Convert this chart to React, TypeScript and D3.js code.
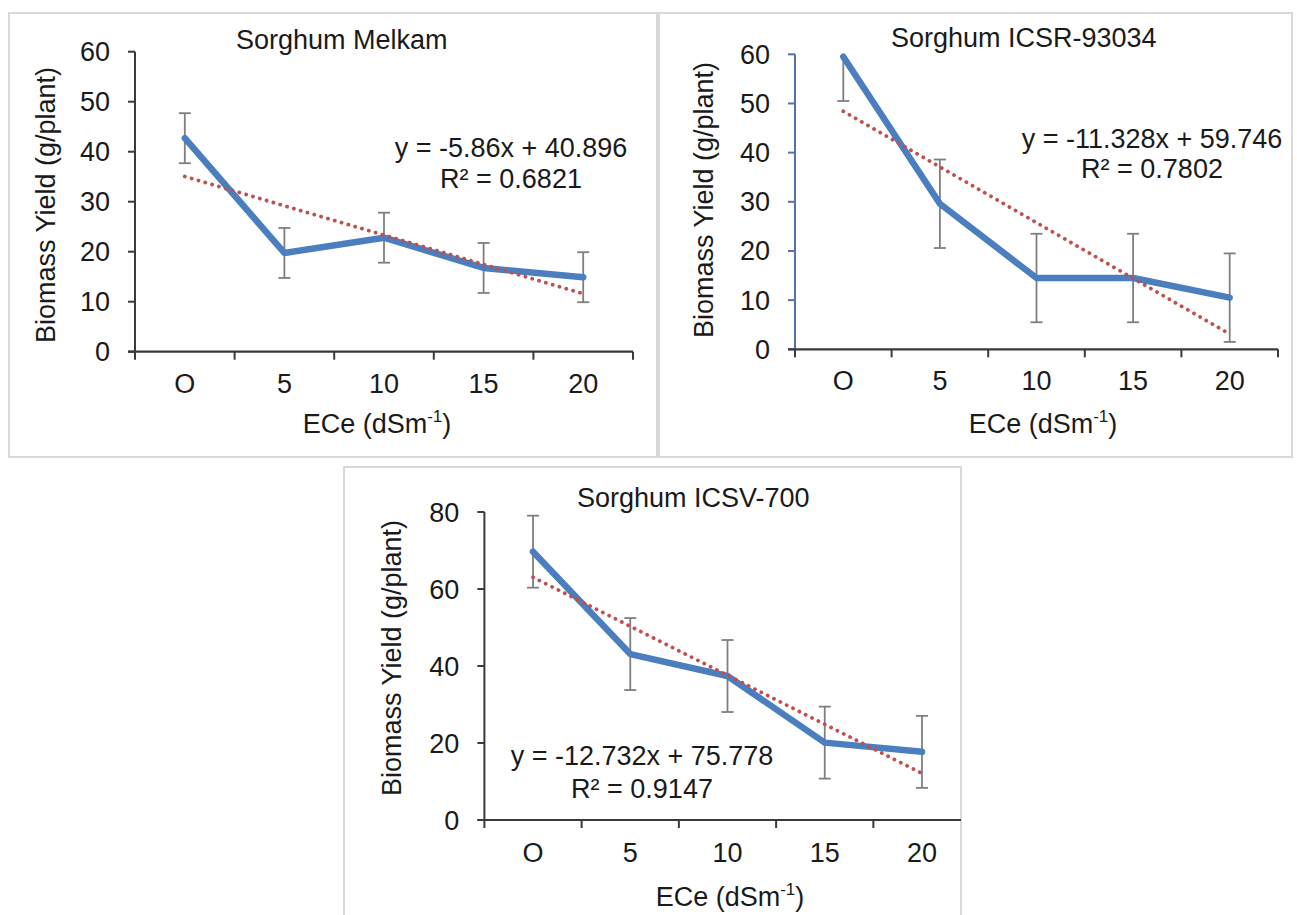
import React from "react";
import * as d3 from "d3";

// ---------- data ----------
const categories = ["O", "5", "10", "15", "20"];
const melkamYield = [42.7, 19.75, 22.8, 16.75, 14.9];
const melkamError = [5, 5, 5, 5, 5];
const icsrYield = [59.5, 29.6, 14.5, 14.5, 10.5];
const icsrError = [9, 9, 9, 9, 9];
const icsvYield = [69.7, 43.1, 37.4, 20.1, 17.7];
const icsvError = [9.35, 9.35, 9.35, 9.35, 9.35];
const panelTitles = ["Sorghum Melkam", "Sorghum ICSR-93034", "Sorghum ICSV-700"];
const trendSlopes = [-5.86, -11.328, -12.732];
const trendIntercepts = [40.896, 59.746, 75.778];
const rSquaredLabels = ["0.6821", "0.7802", "0.9147"];
const yTicksSixty = [0, 10, 20, 30, 40, 50, 60];
const yTicksEighty = [0, 20, 40, 60, 80];
const yAxisTitle = "Biomass Yield (g/plant)";
const xAxisTitle = "ECe (dSm";
const xAxisSup = "-1";

const seriesValues = [melkamYield, icsrYield, icsvYield];
const seriesErrors = [melkamError, icsrError, icsvError];
const seriesTicks = [yTicksSixty, yTicksSixty, yTicksEighty];

// ---------- layout ----------
const layouts = [
  {
    border: [9, 13, 648, 444], x0: 135, x1: 633, yTop: 51.7, yBottom: 351.7,
    yAxisColor: "#3a3a3a", titleX: 236, titleY: 49, eqX: 511, eqY1: 157, eqY2: 188,
    yLabX: 46, yLabY: 205, xLabX: 377, xLabY: 433, tickLabY: 393,
  },
  {
    border: [659, 13, 633, 444], x0: 795, x1: 1278, yTop: 54.3, yBottom: 349.3,
    yAxisColor: "#5671a6", titleX: 891, titleY: 47, eqX: 1152, eqY1: 148, eqY2: 178,
    yLabX: 704, yLabY: 200, xLabX: 1043, xLabY: 433, tickLabY: 390,
  },
  {
    border: [344, 467, 617, 470], x0: 484.4, x1: 970.6, yTop: 512, yBottom: 820,
    yAxisColor: "#3a3a3a", titleX: 577, titleY: 507, eqX: 642, eqY1: 765, eqY2: 798,
    yLabX: 392, yLabY: 658, xLabX: 730, xLabY: 906, tickLabY: 862,
  },
];

const FONT = "'Liberation Sans', Arial, Helvetica, sans-serif";
const FS = 27;
const TEXT = "#1a1a1a";
const AXIS = "#3a3a3a";

function Panel({ idx }: { idx: number }) {
  const L = layouts[idx];
  const values = seriesValues[idx];
  const errors = seriesErrors[idx];
  const ticks = seriesTicks[idx];
  const yMax = d3.max(ticks) as number;

  const x = d3.scaleBand<string>().domain(categories).range([L.x0, L.x1]).padding(0);
  const y = d3.scaleLinear().domain([0, yMax]).range([L.yBottom, L.yTop]);
  const cx = (i: number) => (x(categories[i]) as number) + x.bandwidth() / 2;

  const line = d3
    .line<number>()
    .x((_, i) => cx(i))
    .y((d) => y(d));

  const trendVals = categories.map((_, i) => trendSlopes[idx] * (i + 1) + trendIntercepts[idx]);

  const [bx, by, bw, bh] = L.border;
  const clipId = `clip-panel-${idx}`;
  const boundaries = d3.range(categories.length + 1).map((i) => L.x0 + i * x.bandwidth());

  return (
    <g>
      <defs>
        <clipPath id={clipId}>
          <rect x={bx} y={by} width={bw} height={bh} />
        </clipPath>
      </defs>
      <rect x={bx} y={by} width={bw} height={bh} fill="#ffffff" stroke="#d9d9d9" strokeWidth={2} />
      <g clipPath={`url(#${clipId})`}>
        <text x={L.titleX} y={L.titleY} fontFamily={FONT} fontSize={FS} fill={TEXT}>
          {panelTitles[idx]}
        </text>
        {ticks.map((t) => (
          <text
            key={`yl${t}`}
            x={L.x0 - 25}
            y={y(t) + 9.5}
            textAnchor="end"
            fontFamily={FONT}
            fontSize={FS}
            fill={TEXT}
          >
            {t}
          </text>
        ))}
        {ticks.map((t) => (
          <line key={`yt${t}`} x1={L.x0 - 7} x2={L.x0} y1={y(t)} y2={y(t)} stroke={L.yAxisColor} strokeWidth={2} />
        ))}
        {boundaries.map((b, i) => (
          <line key={`xt${i}`} x1={b} x2={b} y1={L.yBottom} y2={L.yBottom + 8} stroke={AXIS} strokeWidth={2} />
        ))}
        <line x1={L.x0} x2={L.x0} y1={y(yMax)} y2={L.yBottom} stroke={L.yAxisColor} strokeWidth={2} />
        <line x1={L.x0 - 7} x2={L.x1} y1={L.yBottom} y2={L.yBottom} stroke={AXIS} strokeWidth={2.2} />
        {categories.map((c, i) => (
          <text key={`xl${c}`} x={cx(i)} y={L.tickLabY} textAnchor="middle" fontFamily={FONT} fontSize={FS} fill={TEXT}>
            {c}
          </text>
        ))}
        {values.map((v, i) => {
          const hi = v + errors[i];
          const lo = v - errors[i];
          const clipped = hi > yMax;
          const top = y(Math.min(hi, yMax));
          const bot = y(lo);
          return (
            <g key={`e${i}`} stroke="#7f7f7f" strokeWidth={1.8}>
              <line x1={cx(i)} x2={cx(i)} y1={top} y2={bot} />
              {!clipped && <line x1={cx(i) - 6} x2={cx(i) + 6} y1={top} y2={top} />}
              <line x1={cx(i) - 6} x2={cx(i) + 6} y1={bot} y2={bot} />
            </g>
          );
        })}
        <path
          d={line(values) as string}
          fill="none"
          stroke="#4a7ebf"
          strokeWidth={6.5}
          strokeLinejoin="round"
          strokeLinecap="round"
        />
        <path
          d={line(trendVals) as string}
          fill="none"
          stroke="#c0504d"
          strokeWidth={3.8}
          strokeDasharray="0.1 7"
          strokeLinecap="round"
        />
        <text x={L.eqX} y={L.eqY1} textAnchor="middle" fontFamily={FONT} fontSize={FS} fill={TEXT}>
          {`y = ${trendSlopes[idx]}x + ${trendIntercepts[idx]}`}
        </text>
        <text x={L.eqX} y={L.eqY2} textAnchor="middle" fontFamily={FONT} fontSize={FS} fill={TEXT}>
          {`R² = ${rSquaredLabels[idx]}`}
        </text>
        <text
          transform={`translate(${L.yLabX},${L.yLabY}) rotate(-90)`}
          textAnchor="middle"
          dominantBaseline="central"
          fontFamily={FONT}
          fontSize={FS}
          fill={TEXT}
        >
          {yAxisTitle}
        </text>
        <text x={L.xLabX} y={L.xLabY} textAnchor="middle" fontFamily={FONT} fontSize={FS} fill={TEXT}>
          {xAxisTitle}
          <tspan fontSize={17} dy={-11}>
            {xAxisSup}
          </tspan>
          <tspan dy={11}>)</tspan>
        </text>
      </g>
    </g>
  );
}

export default function App() {
  return (
    <svg
      width={1297}
      height={915}
      viewBox="0 0 1297 915"
      style={{ position: "absolute", left: 0, top: 0, background: "#ffffff" }}
    >
      <rect x={0} y={0} width={1297} height={915} fill="#ffffff" />
      {layouts.map((_, i) => (
        <Panel key={i} idx={i} />
      ))}
    </svg>
  );
}
